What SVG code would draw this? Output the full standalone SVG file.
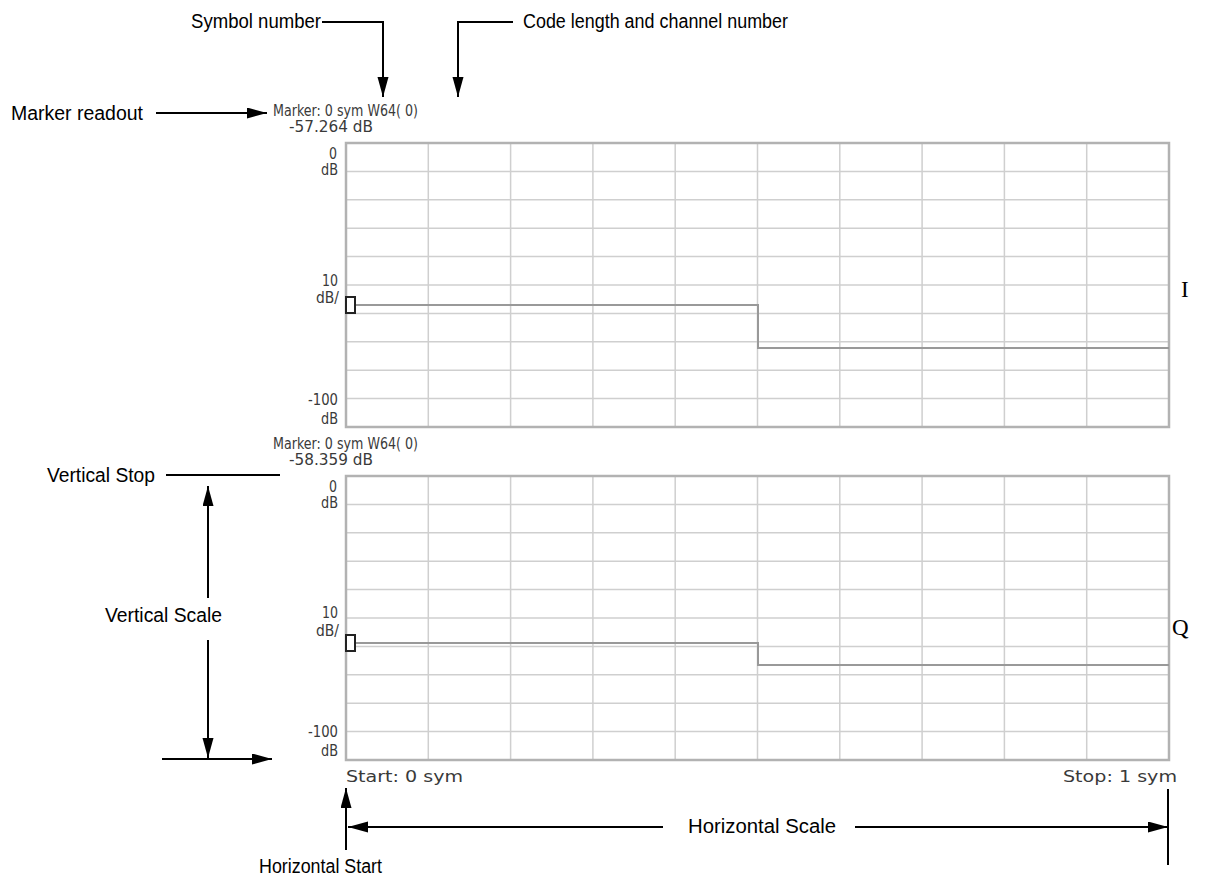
<svg xmlns="http://www.w3.org/2000/svg" width="1209" height="878" viewBox="0 0 1209 878">
<style>
.ann{font-family:"Liberation Sans",Arial,sans-serif;font-size:20px;fill:#000}
.scr{font-family:"DejaVu Sans","Liberation Sans",sans-serif;font-size:15px;fill:#3a3a3a}
.iq{font-family:"Liberation Serif","DejaVu Serif",serif;font-size:23px;fill:#000}
.grid{stroke:#cfcfcf;stroke-width:1.5;fill:none}
.frame{stroke:#b2b2b2;stroke-width:2.5;fill:none}
.trace{stroke:#999;stroke-width:2;fill:none}
.mk{stroke:#222;stroke-width:2;fill:#fff}
.con{stroke:#000;stroke-width:2;fill:none}
</style>
<defs>
<marker id="ah" markerUnits="userSpaceOnUse" markerWidth="20" markerHeight="12" refX="20" refY="5.5" orient="auto">
<path d="M0,0 L20,5.5 L0,11 Z" fill="#000"/>
</marker>
<g id="gridlines">
<path class="grid" d="M428.3,0V284M510.6,0V284M592.9,0V284M675.2,0V284M757.5,0V284M839.8,0V284M922.1,0V284M1004.4,0V284M1086.7,0V284M346,28.4H1169M346,56.8H1169M346,85.2H1169M346,113.6H1169M346,142H1169M346,170.4H1169M346,198.8H1169M346,227.2H1169M346,255.6H1169"/>
<rect class="frame" x="346" y="0" width="823" height="284"/>
</g>
</defs>
<rect width="1209" height="878" fill="#fff"/>

<g id="plot-I">
<use href="#gridlines" transform="translate(0,143)"/>
<path class="trace" d="M346,305H758V348H1169"/>
<rect class="mk" x="346" y="297" width="9" height="16"/>
</g>
<g id="plot-Q">
<use href="#gridlines" transform="translate(0,476)"/>
<path class="trace" d="M346,643H758V665H1169"/>
<rect class="mk" x="346" y="635" width="9" height="16"/>
</g>

<g id="readout-I">
<text class="scr" x="273" y="116" textLength="145" lengthAdjust="spacingAndGlyphs">Marker: 0 sym W64( 0)</text>
<text class="scr" x="289" y="132" textLength="84" lengthAdjust="spacingAndGlyphs">-57.264 dB</text>
</g>
<g id="scale-I">
<text class="scr" x="329" y="159" textLength="8" lengthAdjust="spacingAndGlyphs">0</text>
<text class="scr" x="321" y="175" textLength="17" lengthAdjust="spacingAndGlyphs">dB</text>
<text class="scr" x="322" y="286" textLength="16" lengthAdjust="spacingAndGlyphs">10</text>
<text class="scr" x="316" y="303" textLength="23" lengthAdjust="spacingAndGlyphs">dB/</text>
<text class="scr" x="308" y="405" textLength="30" lengthAdjust="spacingAndGlyphs">-100</text>
<text class="scr" x="321" y="424" textLength="17" lengthAdjust="spacingAndGlyphs">dB</text>
</g>
<g id="readout-Q">
<text class="scr" x="273" y="449" textLength="145" lengthAdjust="spacingAndGlyphs">Marker: 0 sym W64( 0)</text>
<text class="scr" x="289" y="465" textLength="84" lengthAdjust="spacingAndGlyphs">-58.359 dB</text>
</g>
<g id="scale-Q">
<text class="scr" x="329" y="492" textLength="8" lengthAdjust="spacingAndGlyphs">0</text>
<text class="scr" x="321" y="508" textLength="17" lengthAdjust="spacingAndGlyphs">dB</text>
<text class="scr" x="322" y="618" textLength="16" lengthAdjust="spacingAndGlyphs">10</text>
<text class="scr" x="316" y="636" textLength="23" lengthAdjust="spacingAndGlyphs">dB/</text>
<text class="scr" x="308" y="737" textLength="30" lengthAdjust="spacingAndGlyphs">-100</text>
<text class="scr" x="321" y="756" textLength="17" lengthAdjust="spacingAndGlyphs">dB</text>
</g>
<g id="range">
<text class="scr" x="346" y="782" textLength="117" lengthAdjust="spacingAndGlyphs">Start: 0 sym</text>
<text class="scr" x="1063" y="782" textLength="114" lengthAdjust="spacingAndGlyphs">Stop: 1 sym</text>
</g>
<g id="label-I"><text class="iq" x="1181" y="297">I</text></g>
<g id="label-Q"><text class="iq" x="1172" y="635">Q</text></g>

<g id="ann-symbol"><text class="ann" x="191" y="28" textLength="130" lengthAdjust="spacingAndGlyphs">Symbol number</text></g>
<g id="ann-code"><text class="ann" x="523" y="28" textLength="265" lengthAdjust="spacingAndGlyphs">Code length and channel number</text></g>
<g id="ann-marker"><text class="ann" x="11" y="120" textLength="132" lengthAdjust="spacingAndGlyphs">Marker readout</text></g>
<g id="ann-vstop"><text class="ann" x="47" y="482" textLength="108" lengthAdjust="spacingAndGlyphs">Vertical Stop</text></g>
<g id="ann-vscale"><text class="ann" x="105" y="622" textLength="117" lengthAdjust="spacingAndGlyphs">Vertical Scale</text></g>
<g id="ann-hstart"><text class="ann" x="259" y="873" textLength="123" lengthAdjust="spacingAndGlyphs">Horizontal Start</text></g>
<g id="ann-hscale"><text class="ann" x="688" y="833" textLength="148" lengthAdjust="spacingAndGlyphs">Horizontal Scale</text></g>

<g id="connectors">
<polyline class="con" points="322,22 383,22 383,97" marker-end="url(#ah)"/>
<polyline class="con" points="513,22 458,22 458,97" marker-end="url(#ah)"/>
<line class="con" x1="156" y1="113" x2="267" y2="113" marker-end="url(#ah)"/>
<line class="con" x1="166" y1="475" x2="280" y2="475"/>
<line class="con" x1="208" y1="598" x2="208" y2="486" marker-end="url(#ah)"/>
<line class="con" x1="208" y1="640" x2="208" y2="758" marker-end="url(#ah)"/>
<line class="con" x1="162" y1="759" x2="272" y2="759" marker-end="url(#ah)"/>
<line class="con" x1="346" y1="850" x2="346" y2="788" marker-end="url(#ah)"/>
<line class="con" x1="663" y1="827" x2="348" y2="827" marker-end="url(#ah)"/>
<line class="con" x1="855" y1="827" x2="1168" y2="827" marker-end="url(#ah)"/>
<line class="con" x1="1168" y1="789" x2="1168" y2="865"/>
</g>
</svg>
